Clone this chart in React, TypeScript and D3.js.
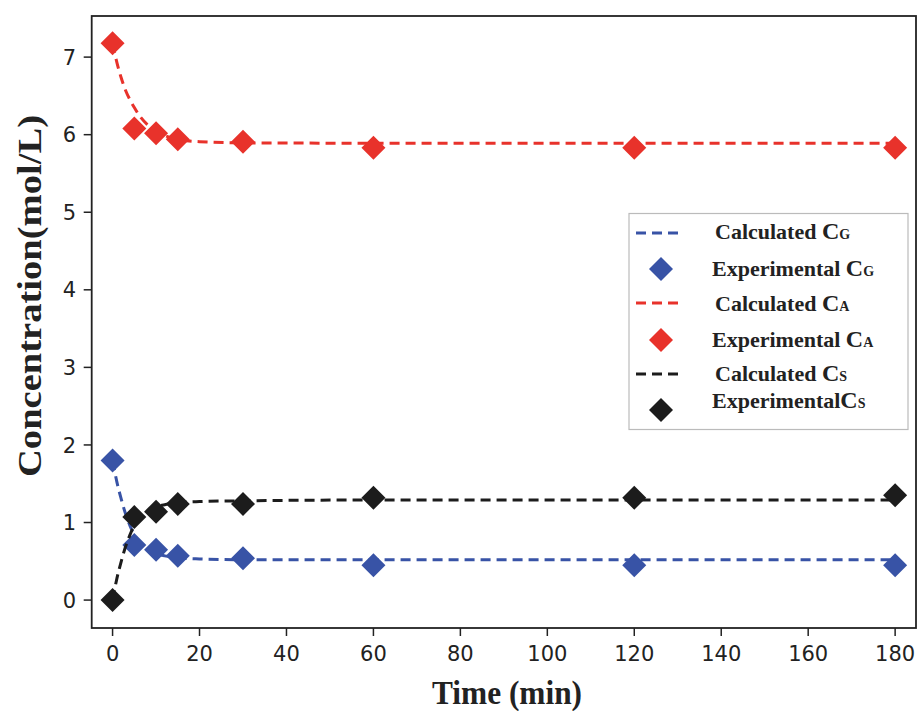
import React from "react";
import * as d3 from "d3";

const expTime = [0, 5, 10, 15, 30, 60, 120, 180];
const expG = [1.8, 0.71, 0.65, 0.57, 0.54, 0.45, 0.45, 0.45];
const expA = [7.18, 6.08, 6.02, 5.94, 5.91, 5.83, 5.83, 5.83];
const expS = [0.0, 1.07, 1.14, 1.24, 1.24, 1.32, 1.32, 1.35];

const calcTime = [0, 1, 2, 3, 4, 5, 6, 8, 10, 12, 15, 20, 30, 60, 120, 180];
const calcG = [1.8, 1.52, 1.3, 1.11, 0.96, 0.84, 0.76, 0.66, 0.6, 0.57, 0.545, 0.53, 0.52, 0.52, 0.52, 0.52];
const calcA = [7.18, 6.93, 6.73, 6.57, 6.45, 6.35, 6.26, 6.13, 6.05, 5.99, 5.94, 5.91, 5.895, 5.89, 5.89, 5.89];
const calcS = [0.0, 0.28, 0.5, 0.69, 0.84, 0.96, 1.04, 1.14, 1.2, 1.23, 1.255, 1.27, 1.28, 1.29, 1.29, 1.29];

const xTicks = [0, 20, 40, 60, 80, 100, 120, 140, 160, 180];
const yTicks = [0, 1, 2, 3, 4, 5, 6, 7];

const seriesNames = ["G", "A", "S"];
const colors = ["#3853a6", "#e8322b", "#1c1c1c"];

const W = 917;
const H = 711;
const plot = { left: 91.7, right: 916, top: 16, bottom: 628 };

const serif = "'Liberation Serif', 'Times New Roman', serif";
const sans = "'DejaVu Sans', sans-serif";

function Diamond({ cx, cy, r, fill }: { cx: number; cy: number; r: number; fill: string }) {
  return <path d={`M${cx},${cy - r}L${cx + r},${cy}L${cx},${cy + r}L${cx - r},${cy}Z`} fill={fill} />;
}

export default function App() {
  const x = d3.scaleLinear().domain([-4.8, 184.8]).range([plot.left, plot.right]);
  const y = d3.scaleLinear().domain([-0.36, 7.53]).range([plot.bottom, plot.top]);
  const line = d3
    .line<[number, number]>()
    .x((d) => x(d[0]))
    .y((d) => y(d[1]))
    .curve(d3.curveMonotoneX);

  const calc = [calcG, calcA, calcS];
  const exp = [expG, expA, expS];

  const legendRows = [
    { kind: "line", label: "Calculated ", sub: "G", color: colors[0], y: 233, ty: 239 },
    { kind: "marker", label: "Experimental ", sub: "G", color: colors[0], y: 269, ty: 276 },
    { kind: "line", label: "Calculated ", sub: "A", color: colors[1], y: 303, ty: 311 },
    { kind: "marker", label: "Experimental ", sub: "A", color: colors[1], y: 340, ty: 347 },
    { kind: "line", label: "Calculated ", sub: "S", color: colors[2], y: 374, ty: 381 },
    { kind: "marker", label: "Experimental", sub: "S", color: colors[2], y: 410, ty: 408 },
  ];

  return (
    <svg width={W} height={H} style={{ position: "absolute", left: 0, top: 0, background: "#fff" }}>
      <rect x={0} y={0} width={W} height={H} fill="#fff" />
      {/* series */}
      {seriesNames.map((name, i) => (
        <g key={name}>
          <path
            d={line(calcTime.map((t, k) => [t, calc[i][k]] as [number, number])) || ""}
            fill="none"
            stroke={colors[i]}
            strokeWidth={3}
            strokeDasharray="10,6"
          />
          {expTime.map((t, k) => (
            <Diamond key={k} cx={x(t)} cy={y(exp[i][k])} r={12} fill={colors[i]} />
          ))}
        </g>
      ))}
      {/* frame */}
      <rect
        x={plot.left}
        y={plot.top}
        width={plot.right - plot.left}
        height={plot.bottom - plot.top}
        fill="none"
        stroke="#222"
        strokeWidth={1.8}
      />
      {/* x ticks */}
      {xTicks.map((t) => (
        <g key={t}>
          <line x1={x(t)} x2={x(t)} y1={plot.bottom} y2={plot.bottom + 8} stroke="#222" strokeWidth={1.5} />
          <text x={x(t)} y={661} textAnchor="middle" fontFamily={sans} fontSize={21} fill="#222">
            {t}
          </text>
        </g>
      ))}
      {/* y ticks */}
      {yTicks.map((t) => (
        <g key={t}>
          <line x1={plot.left - 8} x2={plot.left} y1={y(t)} y2={y(t)} stroke="#222" strokeWidth={1.5} />
          <text x={76} y={y(t)} dy="0.36em" textAnchor="end" fontFamily={sans} fontSize={21} fill="#222">
            {t}
          </text>
        </g>
      ))}
      {/* axis titles */}
      <text
        x={507}
        y={704}
        textAnchor="middle"
        fontFamily={serif}
        fontWeight="bold"
        fontSize={34}
        textLength={150}
        lengthAdjust="spacingAndGlyphs"
        fill="#222"
      >
        Time (min)
      </text>
      <text
        transform="translate(41,296) rotate(-90)"
        textAnchor="middle"
        fontFamily={serif}
        fontWeight="bold"
        fontSize={34}
        textLength={362}
        lengthAdjust="spacingAndGlyphs"
        fill="#222"
      >
        Concentration(mol/L)
      </text>
      {/* legend */}
      <rect x={629} y={213.5} width={279} height={216} fill="#fff" stroke="#bbb" strokeWidth={1.2} />
      {legendRows.map((r, i) => (
        <g key={i}>
          {r.kind === "line" ? (
            <line x1={636} x2={684} y1={r.y} y2={r.y} stroke={r.color} strokeWidth={3} strokeDasharray="10,6" />
          ) : (
            <Diamond cx={661} cy={r.y} r={12} fill={r.color} />
          )}
          <text x={r.kind === "line" ? 715 : 712} y={r.ty} fontFamily={serif} fontWeight="bold" fontSize={22} fill="#222">
            {r.label}
            <tspan fontSize={24}>C</tspan>
            <tspan fontSize={14}>{r.sub}</tspan>
          </text>
        </g>
      ))}
    </svg>
  );
}
